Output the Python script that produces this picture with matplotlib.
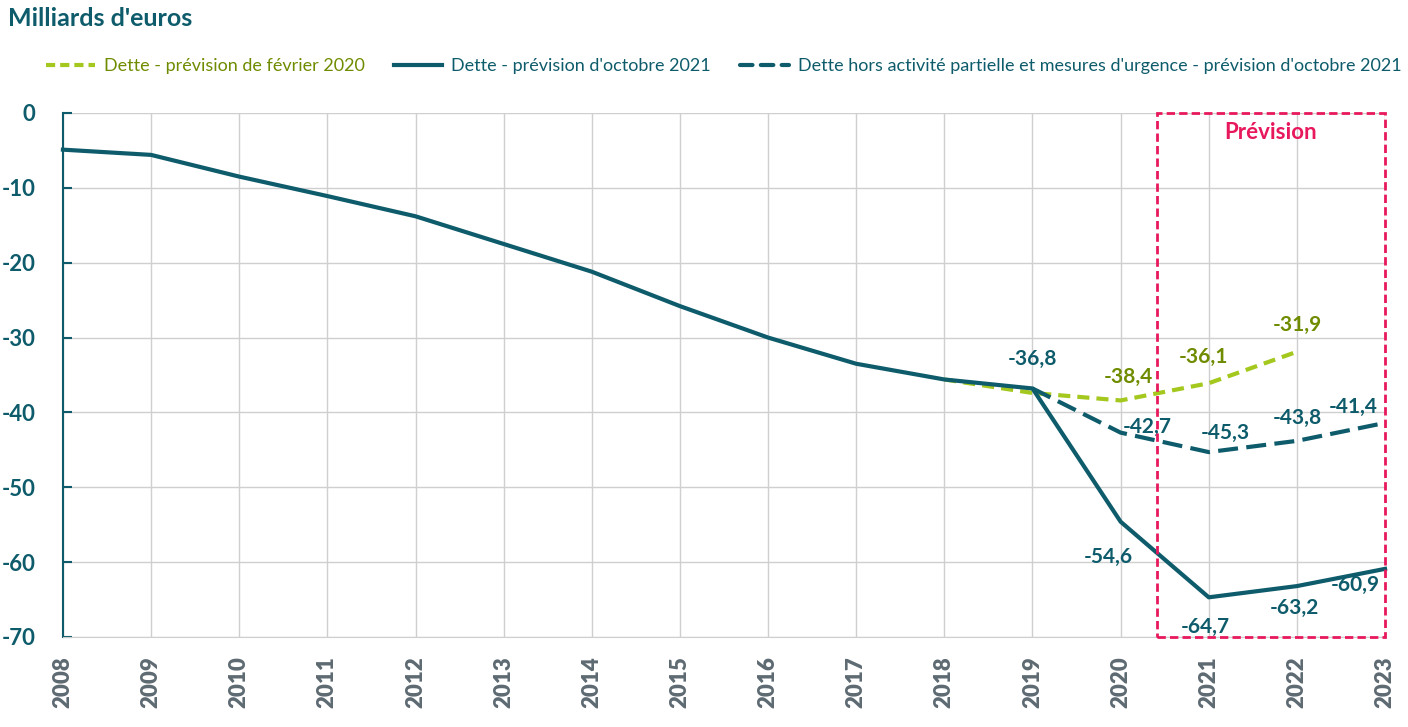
import matplotlib.pyplot as plt
from matplotlib.patches import Rectangle
from matplotlib.lines import Line2D

plt.rcParams['font.family'] = ['Lato', 'DejaVu Sans']

annees = list(range(2008, 2024))
dette_oct2021 = [-4.9, -5.6, -8.5, -11.1, -13.8, -17.5, -21.2, -25.8, -30.0, -33.5,
                 -35.6, -36.8, -54.6, -64.7, -63.2, -60.9]
annees_fev = [2018, 2019, 2020, 2021, 2022]
dette_fev2020 = [-35.6, -37.4, -38.4, -36.1, -31.9]
annees_hors = [2019, 2020, 2021, 2022, 2023]
dette_hors = [-36.8, -42.7, -45.3, -43.8, -41.4]

TEAL = '#0E5C6B'
VERT = '#A4C81E'
OLIVE = '#6F8C00'
ROSE = '#E8185C'
GRIS = '#5E6A72'

fig = plt.figure(figsize=(14.08, 7.27), dpi=100)
ax = fig.add_axes([0.0447, 0.1238, 0.939, 0.7208])

ax.plot(annees_fev, dette_fev2020, color=VERT, lw=3, ls=(0, (2.9, 1.7)), clip_on=False, zorder=3)
ax.plot(annees_hors, dette_hors, color=TEAL, lw=3, ls=(0, (4.8, 2)), clip_on=False, zorder=3)
ax.plot(annees, dette_oct2021, color=TEAL, lw=3, clip_on=False, zorder=4)

ax.set_xlim(2008, 2023)
ax.set_ylim(-70, 0)
ax.set_xticks(annees)
ax.set_xticklabels([str(a) for a in annees], rotation=90, fontsize=16, fontweight='heavy', color=GRIS)
ax.set_yticks(range(-70, 1, 10))
ax.set_yticklabels([str(v) for v in range(-70, 1, 10)], fontsize=16, fontweight='bold', color=TEAL)
ax.grid(True, color='#CFCFCF', lw=1)
ax.set_axisbelow(True)
for s in ['top', 'right']:
    ax.spines[s].set_visible(False)
ax.spines['bottom'].set_color('#CFCFCF')
ax.spines['left'].set_color(TEAL)
ax.spines['left'].set_linewidth(1.5)
ax.tick_params(axis='x', length=0, pad=14)
ax.tick_params(axis='y', direction='in', length=6.5, color=TEAL, width=1.5, pad=20)

# étiquettes (valeur, couleur, décalage en pixels)
etiquettes = [
    (2019, -36.8, TEAL, (0, 29)),
    (2020, -38.4, OLIVE, (8, 23)),
    (2021, -36.1, OLIVE, (-5, 26)),
    (2022, -31.9, OLIVE, (0, 27)),
    (2020, -42.7, TEAL, (27, 6)),
    (2021, -45.3, TEAL, (17, 19)),
    (2022, -43.8, TEAL, (0, 23)),
    (2023, -41.4, TEAL, (-32, 16)),
    (2020, -54.6, TEAL, (-12, -35)),
    (2021, -64.7, TEAL, (-3, -30)),
    (2022, -63.2, TEAL, (-2, -22)),
    (2023, -60.9, TEAL, (-30, -16)),
]
for x, y, c, off in etiquettes:
    ax.annotate(('%.1f' % y).replace('.', ','), (x, y), xytext=off, textcoords='offset pixels',
                ha='center', va='center', fontsize=15, fontweight='bold', color=c,
                annotation_clip=False, zorder=5)

rect = Rectangle((2020.41, -70), 2023 - 2020.41, 70, fill=False, ec=ROSE, lw=2,
                 ls=(0, (3, 1.5)), clip_on=False, zorder=6)
ax.add_patch(rect)
ax.text(2021.7, -2.6, 'Prévision', color=ROSE, fontsize=16, fontweight='bold',
        ha='center', va='center')

fig.text(0.006, 0.974, "Milliards d'euros", color=TEAL, fontsize=18, fontweight='bold',
         ha='left', va='center')

handles = [
    Line2D([], [], color=VERT, lw=3, ls=(0, (2.2, 1.2))),
    Line2D([], [], color=TEAL, lw=3),
    Line2D([], [], color=TEAL, lw=3, ls=(0, (3, 2)), dash_capstyle='round'),
]
noms = ['Dette - prévision de février 2020', "Dette - prévision d'octobre 2021",
        "Dette hors activité partielle et mesures d'urgence - prévision d'octobre 2021"]
leg = fig.legend(handles, noms, loc='center', bbox_to_anchor=(0.514, 0.909), ncol=3,
                 frameon=False, fontsize=13, handlelength=2.7, columnspacing=1.6, handletextpad=0.5)
for t, c in zip(leg.get_texts(), [OLIVE, TEAL, TEAL]):
    t.set_color(c)

fig.savefig('out.png', dpi=100)
